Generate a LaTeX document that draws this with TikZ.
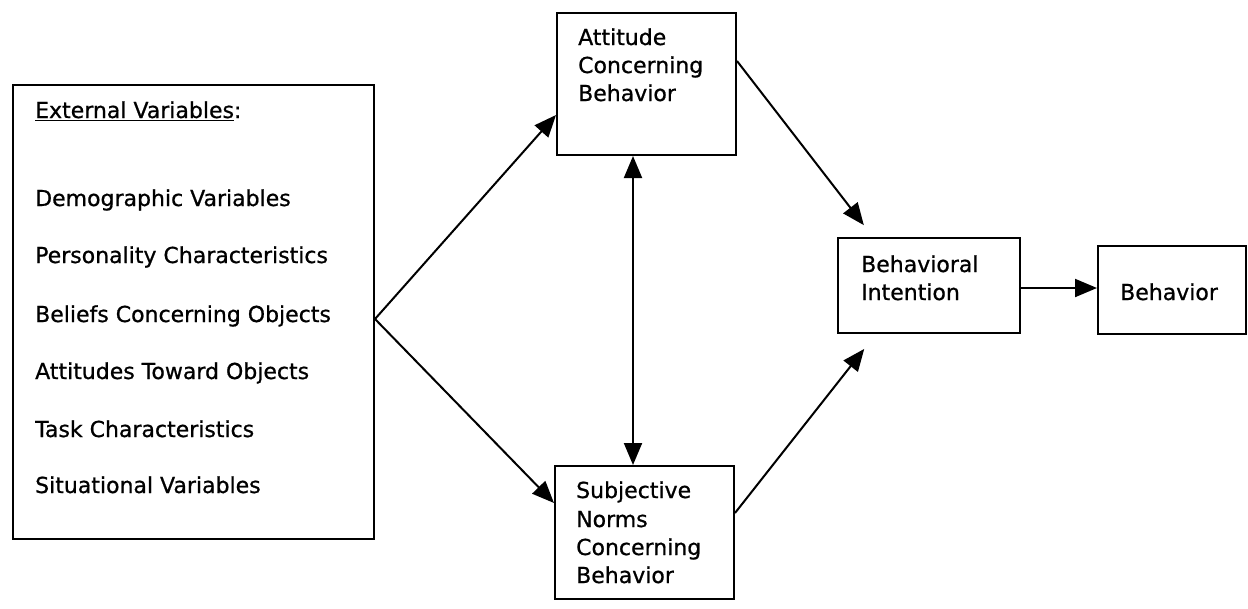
\documentclass[tikz,border=0pt]{standalone}
\usepackage{fontspec}
\setmainfont{DejaVu Sans}[RawFeature={embolden=0.8}]
\usetikzlibrary{arrows.meta}
\begin{document}
\begin{tikzpicture}[x=1pt,y=-1pt,
  box/.style={draw, line width=2pt, inner sep=0pt, anchor=north west},
  lbl/.style={anchor=base west, inner sep=0pt, font=\fontsize{22}{28}\selectfont},
  arr/.style={line width=2pt, -{Triangle[length=22pt,width=18pt]}},
  darr/.style={line width=2pt, {Triangle[length=22pt,width=18pt]}-{Triangle[length=22pt,width=18pt]}}]
\useasboundingbox (0,0) rectangle (1248,608);
% boxes
\node[box, minimum width=361pt, minimum height=454pt] (ext) at (12,84) {};
\node[box, minimum width=179pt, minimum height=142pt] (att) at (556,12) {};
\node[box, minimum width=179pt, minimum height=133pt] (sub) at (554,465) {};
\node[box, minimum width=182pt, minimum height=95pt] (bi) at (837,237) {};
\node[box, minimum width=148pt, minimum height=88pt] (beh) at (1097,245) {};
% texts of the external variables box
\node[lbl] (e0) at (35,118) {\underline{External Variables}:};
\node[lbl] (e1) at (35,206) {Demographic Variables};
\node[lbl] (e2) at (35,263) {Personality Characteristics};
\node[lbl] (e3) at (35,322) {Beliefs Concerning Objects};
\node[lbl] (e4) at (35,379) {Attitudes Toward Objects};
\node[lbl] (e5) at (35,437) {Task Characteristics};
\node[lbl] (e6) at (35,493) {Situational Variables};
% attitude
\node[lbl] (a1) at (578,45) {Attitude};
\node[lbl] (a2) at (578,73) {Concerning};
\node[lbl] (a3) at (578,101) {Behavior};
% subjective norms
\node[lbl] (s1) at (576,498) {Subjective};
\node[lbl] (s2) at (576,527) {Norms};
\node[lbl] (s3) at (576,555) {Concerning};
\node[lbl] (s4) at (576,583) {Behavior};
% behavioral intention
\node[lbl] (b1) at (861,272) {Behavioral};
\node[lbl] (b2) at (861,300) {Intention};
% behavior
\node[lbl] (c1) at (1120,300) {Behavior};
% connectors
\draw[arr] ([yshift=-7pt]ext.east) -- ([yshift=-31pt]att.west);
\draw[arr] ([yshift=-7pt]ext.east) -- ([yshift=29.5pt]sub.west);
\draw[darr] ([xshift=-13.5pt]att.south) -- ([xshift=-11.5pt]sub.north);
\draw[arr, shorten >=15pt] ([yshift=23pt]att.east) -- ([xshift=-56pt]bi.north);
\draw[arr, shorten >=19pt] ([yshift=19.5pt]sub.east) -- ([xshift=-53pt]bi.south);
\draw[arr] ([yshift=-2.5pt]bi.east) -- ([yshift=-2.5pt]bi.east -| beh.west);
\end{tikzpicture}
\end{document}
